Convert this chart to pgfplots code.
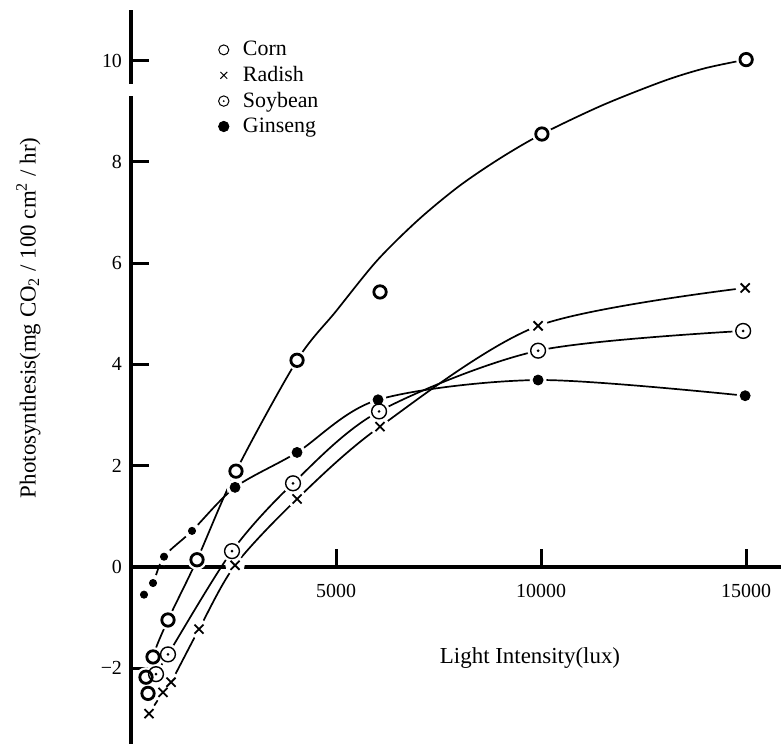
\documentclass[border=0pt]{standalone}
\usepackage{pgfplots}
\pgfplotsset{compat=1.18}
\usepackage{pgfplotstable}
\usepackage{fontspec}
\setmainfont{Liberation Serif}

\pgfdeclareplotmark{sodot}{%
  \pgfpathcircle{\pgfpointorigin}{\pgfplotmarksize}\pgfusepathqstroke
  \pgfsetfillcolor{black}%
  \pgfpathcircle{\pgfpointorigin}{0.2\pgfplotmarksize}\pgfusepathqfill}

\pgfplotstableread{
x y
415 -2.50
366 -2.18
537 -1.78
902 -1.05
1610 0.14
2560 1.89
4049 4.08
6073 5.43
10020 8.55
15000 10.02
}\corn

\pgfplotstableread{
x y
415 -2.50
537 -1.78
902 -1.05
1610 0.14
2560 1.89
4049 4.08
5000 5.05
6000 6.05
7000 6.85
8000 7.52
9000 8.07
10020 8.55
11500 9.12
13000 9.60
14000 9.85
15000 10.02
}\corncurve

\pgfplotstableread{
x y
439 -2.90
780 -2.48
976 -2.28
1659 -1.23
2537 0.03
4049 1.34
6073 2.77
9927 4.76
14976 5.51
}\radish

\pgfplotstableread{
x y
610 -2.12
902 -1.73
2463 0.31
3951 1.65
6049 3.07
9927 4.27
14927 4.66
}\soybean

\pgfplotstableread{
x y
317 -0.55
537 -0.32
805 0.20
1488 0.71
2537 1.57
4049 2.26
6024 3.30
9927 3.69
14976 3.38
}\ginseng

\begin{document}
\begin{tikzpicture}[x=1bp,y=1bp]
\begin{axis}[
  at={(0,0)}, anchor=south west,
  scale only axis, width=325bp, height=367bp,
  xmin=0, xmax=15850, ymin=-3.5, ymax=11,
  axis lines=middle,
  axis line style={-, line width=1.8bp},
  hide obscured x ticks=false, hide obscured y ticks=false,
  scaled x ticks=false, scaled y ticks=false,
  xtick={5000,10000,15000}, xticklabels={5000,10000,15000},
  ytick={-2,0,2,4,6,8,10}, yticklabels={−2,0,2,4,6,8,10},
  major tick length=9bp,
  tick style={line width=1.5bp, black},
  xtick align=inside, ytick align=inside,
  x tick label style={font=\fontsize{10}{12}\selectfont, yshift=-5bp},
  y tick label style={font=\fontsize{10}{12}\selectfont, xshift=-1bp},
  /pgf/number format/assume math mode=true,
  clip=false,
  legend style={at={(axis cs:1980,10.55)}, anchor=north west, draw=none, fill=none,
    font=\fontsize{11}{13}\selectfont, row sep=-0.2bp,
    legend cell align=left,
    /tikz/every odd column/.append style={column sep=5bp}},
  legend image code/.code={\draw[#1] plot coordinates {(0bp,0bp)};},
]
% legend images
\addlegendimage{black, line width=0.5bp, mark=o, mark size=2.5bp}
\addlegendentry{Corn}
\addlegendimage{black, line width=0.5bp, mark=x, mark size=2.4bp}
\addlegendentry{Radish}
\addlegendimage{black, line width=0.5bp, mark=sodot, mark size=2.6bp}
\addlegendentry{Soybean}
\addlegendimage{black, mark=*, mark size=2.6bp}
\addlegendentry{Ginseng}

% curves
\addplot[black, line width=0.85bp, smooth, tension=0.5, no marks, forget plot] table {\corncurve};
\addplot[black, line width=0.85bp, smooth, tension=0.5, no marks, forget plot] table {\radish};
\addplot[black, line width=0.85bp, smooth, tension=0.5, no marks, forget plot] table {\soybean};
\addplot[black, line width=0.85bp, smooth, tension=0.5, no marks, forget plot] table {\ginseng};

% gaps around marks
\addplot[only marks, mark=*, mark size=4.8bp, white, forget plot] table {\corn};
\addplot[only marks, mark=*, mark size=4.6bp, white, forget plot] table {\radish};
\addplot[only marks, mark=*, mark size=5.2bp, white, forget plot] table {\soybean};
\addplot[only marks, mark=*, mark size=4.0bp, white, forget plot] table {\ginseng};

% marks
\addplot[only marks, mark=o, mark size=3.1bp, line width=1.4bp, black, forget plot] table {\corn};
\addplot[only marks, mark=x, mark size=3.2bp, line width=0.9bp, black, forget plot] table {\radish};
\addplot[only marks, mark=sodot, mark size=3.7bp, line width=0.7bp, black, forget plot] table {\soybean};
\addplot[only marks, mark=*, mark size=2.5bp, black, forget plot, restrict x to domain=2000:16000] table {\ginseng};
\addplot[only marks, mark=*, mark size=1.8bp, black, forget plot, restrict x to domain=0:2000] table {\ginseng};

% labels
\node[font=\fontsize{11.5}{13}\selectfont] at (axis cs:9730,-1.8) {Light Intensity(lux)};
\node[font=\fontsize{11.5}{13}\selectfont, rotate=90] at (axis cs:-2500,4.92)
  {Photosynthesis(mg CO\textsubscript{2} / 100 cm\textsuperscript{2} / hr)};
\coordinate (b1) at (axis cs:-400,9.31);
\coordinate (b2) at (axis cs:400,9.54);
\end{axis}
\fill[white] (b1) rectangle (b2);
\pgfresetboundingbox
\useasboundingbox (-65.5bp,0bp) rectangle (325bp,372bp);
\end{tikzpicture}
\end{document}
